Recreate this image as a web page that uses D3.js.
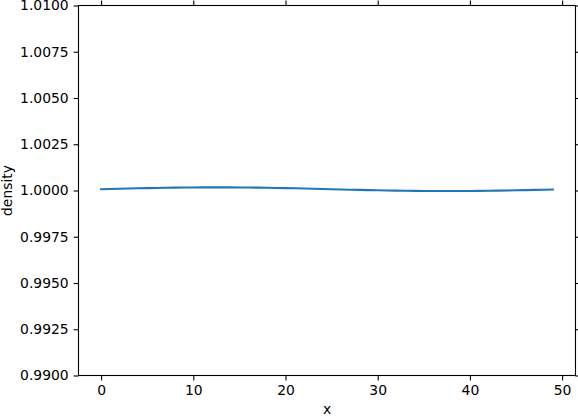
<!DOCTYPE html>
<html>
<head>
<meta charset="utf-8">
<script src="https://cdn.jsdelivr.net/npm/d3@7"></script>
<style>
  body { margin: 0; background: #fff; }
  svg { display: block; font-family: "DejaVu Sans", sans-serif; }
  .tick text { font-family: "DejaVu Sans", sans-serif; font-size: 13.9px; fill: #000; }
  .domain { display: none; }
</style>
</head>
<body>
<svg id="chart" width="578" height="418"></svg>
<script>
// x positions and density values
const xs = d3.range(0, 50);
const density = [
  1.000070, 1.000083, 1.000095, 1.000107, 1.000118, 1.000129, 1.000138, 1.000147, 1.000154, 1.000160,
  1.000165, 1.000168, 1.000170, 1.000170, 1.000168, 1.000165, 1.000160, 1.000154, 1.000147, 1.000138,
  1.000129, 1.000118, 1.000107, 1.000095, 1.000083, 1.000070, 1.000057, 1.000045, 1.000033, 1.000022,
  1.000011, 1.000002, 0.999993, 0.999986, 0.999980, 0.999975, 0.999972, 0.999970, 0.999970, 0.999972,
  0.999975, 0.999980, 0.999986, 0.999993, 1.000002, 1.000011, 1.000022, 1.000033, 1.000045, 1.000057
];
const xTicks = [0, 10, 20, 30, 40, 50];
const yTicks = [0.99, 0.9925, 0.995, 0.9975, 1.0, 1.0025, 1.005, 1.0075, 1.01];

const svg = d3.select("#chart");
const mLeft = 78.5, mRight = 575.5, mTop = 5.5, mBottom = 375.5;

const x = d3.scaleLinear().domain([-2.45, 51.45]).range([mLeft, mRight]);
const y = d3.scaleLinear().domain([0.99, 1.01]).range([mBottom, mTop]);

const tickLen = 4.9;

// axes
svg.append("g")
  .attr("transform", `translate(0,${mBottom})`)
  .call(d3.axisBottom(x).tickValues(xTicks).tickFormat(d3.format("d")).tickSize(tickLen).tickPadding(4.9))
  .call(g => g.selectAll("text").attr("dy", "0.71em"));
svg.append("g")
  .attr("transform", `translate(0,${mTop})`)
  .call(d3.axisTop(x).tickValues(xTicks).tickFormat("").tickSize(tickLen));
svg.append("g")
  .attr("transform", `translate(${mLeft},0)`)
  .call(d3.axisLeft(y).tickValues(yTicks).tickFormat(d3.format(".4f")).tickSize(tickLen).tickPadding(4.9));
svg.append("g")
  .attr("transform", `translate(${mRight},0)`)
  .call(d3.axisRight(y).tickValues(yTicks).tickFormat("").tickSize(tickLen));

svg.selectAll(".tick line").attr("stroke", "#000").attr("stroke-width", 1.1);

// line
const line = d3.line()
  .x((d, i) => x(xs[i]))
  .y(d => y(d));

svg.append("clipPath").attr("id", "clip")
  .append("rect").attr("x", mLeft).attr("y", mTop).attr("width", mRight - mLeft).attr("height", mBottom - mTop);

svg.append("path")
  .datum(density)
  .attr("clip-path", "url(#clip)")
  .attr("fill", "none")
  .attr("stroke", "#1f77b4")
  .attr("stroke-width", 2.08)
  .attr("stroke-linecap", "square")
  .attr("d", line);

// frame
svg.append("rect")
  .attr("x", mLeft).attr("y", mTop)
  .attr("width", mRight - mLeft).attr("height", mBottom - mTop)
  .attr("fill", "none").attr("stroke", "#000").attr("stroke-width", 1.1);

// labels
svg.append("text")
  .attr("x", (mLeft + mRight) / 2).attr("y", 414)
  .attr("text-anchor", "middle")
  .attr("font-size", "13.9px")
  .text("x");
svg.append("text")
  .attr("transform", `translate(12,${(mTop + mBottom) / 2}) rotate(-90)`)
  .attr("text-anchor", "middle")
  .attr("font-size", "13.9px")
  .text("density");
</script>
</body>
</html>
